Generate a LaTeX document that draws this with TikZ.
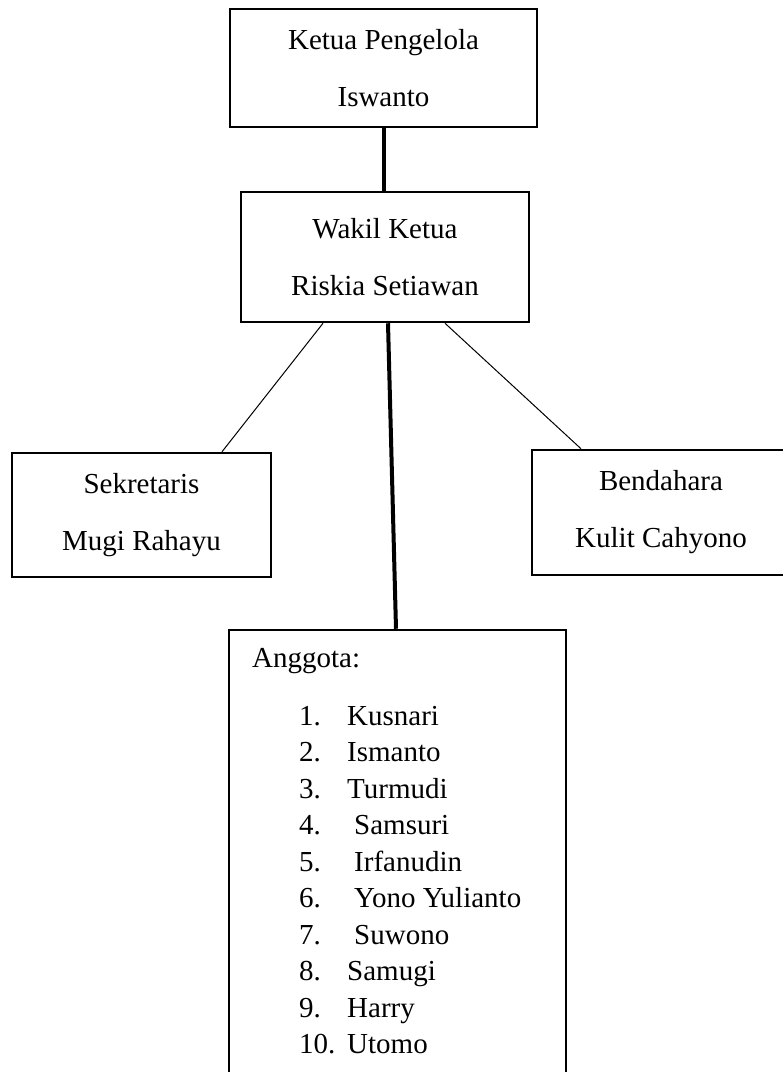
\documentclass[tikz,border=0pt]{standalone}
\usepackage{fontspec}
\setmainfont{Liberation Serif}
\begin{document}
\begin{tikzpicture}[x=1pt,y=-1pt,
  kotak/.style={draw,line width=2.5pt,inner sep=0pt,align=center,font=\fontsize{29}{57}\selectfont},
  isi/.style={anchor=base west,inner sep=0pt,font=\fontsize{29}{35}\selectfont},
  garis/.style={line width=4pt},
  tipis/.style={line width=1pt}]
\useasboundingbox (0,0) rectangle (783,1072);
% Ketua dan wakil
\node[kotak,minimum width=307pt,minimum height=118pt] (ketua) at (383.5,68) {Ketua Pengelola\\Iswanto};
\node[kotak,minimum width=288pt,minimum height=130pt] (wakil) at (385,257) {Wakil Ketua\\Riskia Setiawan};
% Sekretaris dan bendahara
\node[kotak,minimum width=259pt,minimum height=124pt] (sek) at (141.5,515) {Sekretaris\\Mugi Rahayu};
\node[kotak,minimum width=258pt,minimum height=125pt] (bend) at (661,512.5) {Bendahara\\Kulit Cahyono};
% Anggota
\node[kotak,minimum width=337pt,minimum height=500pt] (anggota) at (397.5,880) {};
\node[isi] (judul) at (252,667) {Anggota:};
\foreach \nm/\dx [count=\i] in {Kusnari/0,Ismanto/0,Turmudi/0,Samsuri/7,Irfanudin/7,
    Yono Yulianto/7,Suwono/7,Samugi/0,Harry/0,Utomo/0}{
  \node[isi] (no\i) at (299,725+36.5*\i-36.5) {\i.};
  \node[isi] (nm\i) at (347+\dx,725+36.5*\i-36.5) {\nm};
}
% Garis
\draw[garis] (ketua.south) -- (ketua.south |- wakil.north);
\draw[tipis] ([xshift=-62pt]wakil.south) -- ([xshift=80.5pt]sek.north);
\draw[tipis] ([xshift=60pt]wakil.south) -- ([xshift=-80pt]bend.north);
\draw[garis] ([xshift=3pt]wakil.south) -- ([xshift=-1.5pt]anggota.north);
\end{tikzpicture}
\end{document}
